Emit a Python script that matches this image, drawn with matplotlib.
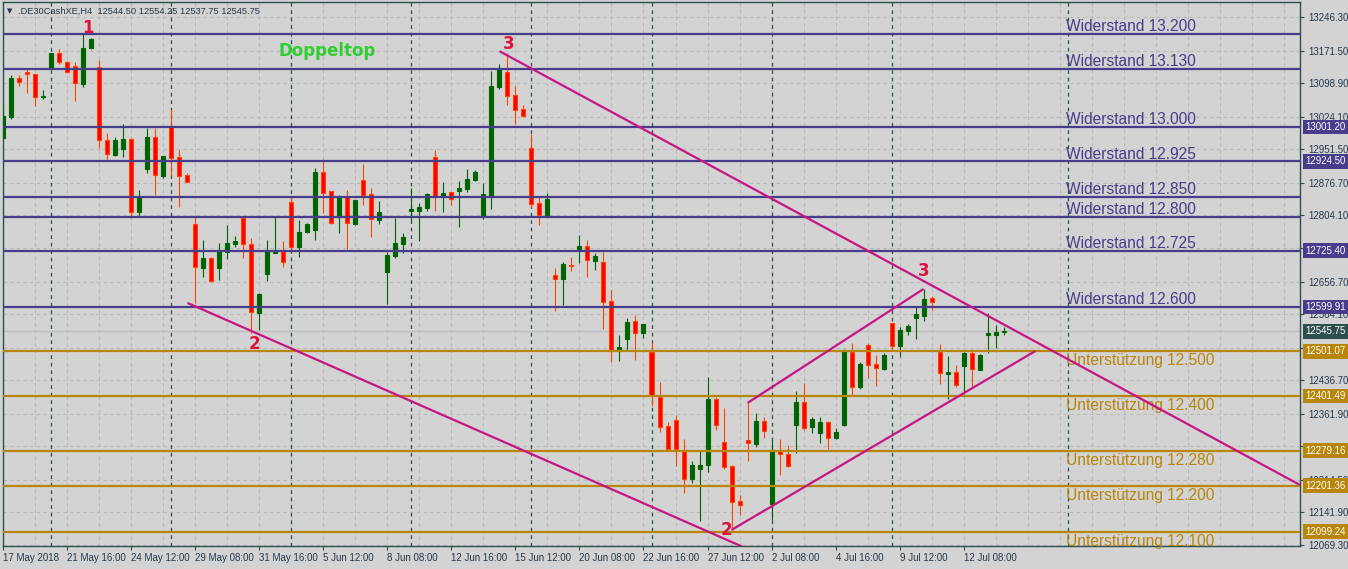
import matplotlib
matplotlib.use('Agg')
from matplotlib import pyplot as plt
import numpy as np

plt.rcParams['font.family'] = ['Liberation Sans', 'DejaVu Sans']

# DE30 H4 candles, 17 May 2018 08:00 .. 13 Jul 2018 16:00 (3 bars per day)
opens = [12976.6, 13023.4, 13110.3, 13123.7, 13119.3, 13068.0, 13132.6, 13166.1, 13146.0, 13137.1,
         13097.0, 13177.2, 13134.9, 12972.1, 12938.7, 12952.1, 12974.4, 12811.7, 12907.5, 12978.8,
         12891.9, 13001.1, 12934.3, 12894.1, 12784.9, 12686.8, 12709.1, 12686.8, 12722.5, 12740.3,
         12798.3, 12740.3, 12586.5, 12673.5, 12720.3, 12724.7, 12833.9, 12733.6, 12767.1, 12771.5,
         12900.8, 12858.5, 12800.5, 12845.1, 12784.9, 12883.0, 12851.8, 12793.8, 12677.9, 12713.6,
         12740.3, 12813.9, 12813.9, 12820.6, 12934.3, 12845.1, 12856.2, 12858.5, 12862.9, 12883.0,
         12802.7, 12849.5, 13090.3, 13123.7, 13072.4, 13041.2, 12954.3, 12831.7, 12805.0, 12671.2,
         12662.3, 12693.5, 12729.2, 12735.9, 12702.4, 12700.2, 12613.3, 12501.8, 12528.6, 12568.7,
         12541.9, 12499.6, 12399.3, 12334.6, 12348.0, 12281.2, 12216.5, 12238.8, 12247.7, 12394.8,
         12299.0, 12245.5, 12167.5, 12303.4, 12294.5, 12345.8, 12160.8, 12278.9, 12272.2, 12336.9,
         12388.1, 12332.4, 12319.0, 12343.6, 12307.9, 12336.9, 12499.6, 12421.6, 12515.2, 12472.8,
         12461.7, 12564.2, 12513.0, 12546.4, 12575.4, 12579.8, 12620.0, 12499.6, 12450.6, 12455.0,
         12468.4, 12497.4, 12459.5, 12537.5, 12537.5, 12544.50]
highs = [13052.4, 13117.0, 13117.0, 13130.4, 13119.3, 13083.6, 13166.1, 13175.0, 13148.2, 13146.0,
         13210.6, 13199.5, 13150.5, 12987.7, 12978.8, 13007.8, 12976.6, 12860.7, 12998.9, 12998.9,
         12936.5, 13041.2, 12949.9, 12898.6, 12805.0, 12749.2, 12711.3, 12742.6, 12782.7, 12758.2,
         12802.7, 12753.7, 12631.1, 12749.2, 12802.7, 12747.0, 12847.3, 12793.8, 12787.1, 12909.7,
         12929.8, 12858.5, 12849.5, 12860.7, 12838.4, 12918.6, 12865.2, 12836.2, 12722.5, 12798.3,
         12764.8, 12865.2, 12831.7, 12854.0, 12949.9, 12878.5, 12856.2, 12880.8, 12907.5, 12905.3,
         12876.3, 13125.9, 13141.5, 13166.1, 13092.5, 13050.2, 12985.5, 12847.3, 12854.0, 12686.8,
         12700.2, 12711.3, 12760.4, 12749.2, 12720.3, 12722.5, 12637.8, 12537.5, 12575.4, 12582.1,
         12562.0, 12521.9, 12432.7, 12343.6, 12359.2, 12305.7, 12256.6, 12278.9, 12443.9, 12399.3,
         12374.8, 12247.7, 12180.8, 12388.1, 12363.6, 12354.7, 12303.4, 12305.7, 12292.3, 12412.7,
         12430.5, 12354.7, 12354.7, 12345.8, 12330.2, 12506.3, 12519.7, 12477.3, 12519.7, 12492.9,
         12497.4, 12564.2, 12555.3, 12562.0, 12599.9, 12640.0, 12624.4, 12517.4, 12490.7, 12470.6,
         12499.6, 12506.3, 12495.1, 12586.5, 12559.8, 12554.25]
lows = [12974.4, 13019.0, 13092.5, 13076.9, 13047.9, 13063.5, 13132.6, 13141.5, 13121.5, 13059.1,
        13090.3, 13175.0, 12954.3, 12927.6, 12936.5, 12934.3, 12798.3, 12800.5, 12898.6, 12849.5,
        12887.4, 12891.9, 12822.8, 12878.5, 12608.8, 12666.8, 12655.6, 12660.1, 12706.9, 12733.6,
        12709.1, 12541.9, 12548.6, 12657.9, 12720.3, 12689.1, 12722.5, 12711.3, 12764.8, 12749.2,
        12809.4, 12784.9, 12764.8, 12729.2, 12782.7, 12827.3, 12755.9, 12784.9, 12606.6, 12709.1,
        12720.3, 12791.6, 12747.0, 12813.9, 12813.9, 12811.7, 12827.3, 12778.2, 12856.2, 12880.8,
        12796.1, 12818.3, 13085.8, 13050.2, 13007.8, 13023.4, 12820.6, 12782.7, 12802.7, 12591.0,
        12604.4, 12680.1, 12698.0, 12666.8, 12682.4, 12550.9, 12477.3, 12479.5, 12504.1, 12481.8,
        12530.8, 12379.2, 12321.3, 12278.9, 12245.5, 12185.3, 12207.6, 12122.9, 12232.1, 12325.7,
        12238.8, 12107.3, 12136.3, 12256.6, 12287.8, 12307.9, 12125.1, 12225.4, 12243.3, 12274.5,
        12325.7, 12319.0, 12296.8, 12283.4, 12305.7, 12334.6, 12403.7, 12417.1, 12441.6, 12423.8,
        12459.5, 12504.1, 12488.5, 12537.5, 12528.6, 12568.7, 12593.2, 12428.3, 12394.8, 12421.6,
        12406.0, 12421.6, 12459.5, 12497.4, 12508.5, 12537.75]
closes = [13025.6, 13110.3, 13101.4, 13119.3, 13068.0, 13070.2, 13166.1, 13146.0, 13123.7, 13099.2,
          13177.2, 13197.3, 12972.1, 12940.9, 12972.1, 12974.4, 12811.7, 12845.1, 12978.8, 12894.1,
          12936.5, 12932.0, 12891.9, 12878.5, 12689.1, 12709.1, 12657.9, 12724.7, 12742.6, 12747.0,
          12740.3, 12588.8, 12628.9, 12724.7, 12722.5, 12700.2, 12733.6, 12767.1, 12784.9, 12900.8,
          12854.0, 12787.1, 12845.1, 12787.1, 12838.4, 12849.5, 12796.1, 12811.7, 12715.8, 12742.6,
          12755.9, 12818.3, 12822.8, 12851.8, 12845.1, 12854.0, 12840.6, 12865.2, 12885.2, 12900.8,
          12851.8, 13092.5, 13132.6, 13070.2, 13039.0, 13025.6, 12829.5, 12805.0, 12840.6, 12662.3,
          12695.7, 12691.3, 12735.9, 12704.7, 12713.6, 12611.0, 12501.8, 12510.7, 12566.5, 12541.9,
          12562.0, 12401.5, 12332.4, 12283.4, 12283.4, 12216.5, 12247.7, 12247.7, 12394.8, 12336.9,
          12243.3, 12165.2, 12158.6, 12296.8, 12345.8, 12323.5, 12281.2, 12272.2, 12245.5, 12388.1,
          12330.2, 12350.3, 12343.6, 12307.9, 12321.3, 12501.8, 12421.6, 12472.8, 12470.6, 12463.9,
          12492.9, 12513.0, 12548.6, 12557.5, 12584.3, 12617.7, 12611.0, 12452.8, 12455.0, 12426.0,
          12497.4, 12461.7, 12492.9, 12541.9, 12544.2, 12545.75]

time_labels = ["17 May 2018", "21 May 16:00", "24 May 12:00", "29 May 08:00", "31 May 16:00",
               "5 Jun 12:00", "8 Jun 08:00", "12 Jun 16:00", "15 Jun 12:00", "20 Jun 08:00",
               "22 Jun 16:00", "27 Jun 12:00", "2 Jul 08:00", "4 Jul 16:00", "9 Jul 12:00",
               "12 Jul 08:00"]
label_bars = list(range(0, 121, 8))
week_starts = [6, 21, 36, 51, 66, 81, 96, 111, 133]

price_ticks = [13246.30, 13171.50, 13098.90, 13024.10, 12951.50, 12876.70, 12804.10, 12730.40,
               12656.70, 12584.10, 12509.30, 12436.70, 12361.90, 12289.30, 12214.50, 12141.90,
               12069.30]
# these three labels sit under the coloured price tags in the original
hidden_ticks = [12730.40, 12509.30, 12289.30]

resistance = [13208.4, 13130.4, 13001.20, 12924.50, 12845.5, 12801.0, 12725.40, 12599.91]
resistance_text = ["Widerstand 13.200", "Widerstand 13.130", "Widerstand 13.000", "Widerstand 12.925",
                   "Widerstand 12.850", "Widerstand 12.800", "Widerstand 12.725", "Widerstand 12.600"]
resistance_tag = [False, False, True, True, False, False, True, True]
support = [12501.07, 12401.49, 12279.16, 12201.36, 12099.24]
support_text = ["Unterstützung 12.500", "Unterstützung 12.400", "Unterstützung 12.280",
                "Unterstützung 12.200", "Unterstützung 12.100"]
bid = 12545.75

trend_bars = [(62.0, 162.06), (23.0, 92.7), (91.0, 129.0), (93.0, 115.0)]
trend_prices = [(13170.0, 12203.2), (12609.0, 12063.0), (12103.0, 12502.0), (12386.0, 12640.0)]

wave_text = ["1", "2", "3", "2", "3"]
wave_bars = [10.6, 31.4, 63.2, 90.4, 115.0]
wave_prices = [13221.8, 12517.4, 13187.0, 12102.8, 12680.0]

BG = '#D3D3D3'
FG = '#24384a'
BLUE = '#483D8B'
GOLD = '#B8860B'
GREEN = '#006400'

fig = plt.figure(figsize=(13.48, 5.69), dpi=100, facecolor=BG)
ax = fig.add_axes([3 / 1348, 23 / 569, 1297 / 1348, 544 / 569])
ax.set_facecolor(BG)

O, H, L, C = (np.array(a) for a in (opens, highs, lows, closes))
x = np.arange(len(O))
up = C >= O

ax.vlines(x[up], L[up], H[up], color=GREEN, lw=0.8, zorder=3)
ax.vlines(x[~up], L[~up], H[~up], color='#FF4500', lw=0.8, zorder=3)
ax.bar(x[up], (C - O)[up], bottom=O[up], width=0.5, color=GREEN, edgecolor=GREEN, lw=0.8, zorder=4)
ax.bar(x[~up], (O - C)[~up], bottom=C[~up], width=0.5, color='#FF0000', edgecolor='#FF4500', lw=0.8, zorder=4)

# grid
for p in price_ticks:
    ax.axhline(p, color='#b9b9b9', lw=0.8, ls=(0, (3, 3)), zorder=1)
for b in range(0, 163, 4):
    ax.axvline(b, color='#b9b9b9', lw=0.8, ls=(0, (3, 3)), zorder=1)
for b in week_starts:
    ax.axvline(b, color='#2F4F4F', lw=0.9, ls=(0, (3, 3)), zorder=1.5)
ax.axhline(bid, color='#BEBEBE', lw=1.0, zorder=1.5)

# support / resistance
for lvl, txt, tag in zip(resistance, resistance_text, resistance_tag):
    ax.axhline(lvl, color=BLUE, lw=1.6, zorder=5)
    ax.annotate(txt, (132.8, lvl), xytext=(0, 2), textcoords='offset points',
                color=BLUE, fontsize=11.2, va='baseline', ha='left', zorder=6)
    if tag:
        ax.text(1.0039, lvl, f"{lvl:.2f}", transform=ax.get_yaxis_transform(), color='white',
                fontsize=7, va='center', ha='left', clip_on=False, zorder=10,
                bbox=dict(boxstyle='square,pad=0.25', fc=BLUE, ec='none'))
for lvl, txt in zip(support, support_text):
    ax.axhline(lvl, color=GOLD, lw=1.6, zorder=5)
    ax.annotate(txt, (132.8, lvl), xytext=(0, -1.5), textcoords='offset points',
                color=GOLD, fontsize=11.2, va='top', ha='left', zorder=6)
    ax.text(1.0039, lvl, f"{lvl:.2f}", transform=ax.get_yaxis_transform(), color='white',
            fontsize=7, va='center', ha='left', clip_on=False, zorder=10,
            bbox=dict(boxstyle='square,pad=0.25', fc=GOLD, ec='none'))
ax.text(1.0039, bid, f"{bid:.2f}", transform=ax.get_yaxis_transform(), color='white',
        fontsize=7, va='center', ha='left', clip_on=False, zorder=10,
        bbox=dict(boxstyle='square,pad=0.25', fc='#2F4F4F', ec='none'))

# trend lines
for bx, py in zip(trend_bars, trend_prices):
    ax.plot(bx, py, color='#C71585', lw=1.6, zorder=7, solid_capstyle='butt')

for t, b, p in zip(wave_text, wave_bars, wave_prices):
    ax.text(b, p, t, color='#DC143C', fontsize=12, fontweight='bold', family='DejaVu Sans',
            ha='center', va='center', zorder=8)
ax.text(40.4, 13170.5, "Doppeltop", color='#32CD32', fontsize=12, fontweight='bold',
        family='DejaVu Sans', ha='center', va='center', zorder=8)

ax.set_xlim(-0.06, 162.06)
ax.set_ylim(12067.2, 13279.7)

ax.set_xticks(label_bars)
ax.set_xticklabels(time_labels, ha='left')
ax.set_yticks(price_ticks)
ax.set_yticklabels(["" if p in hidden_ticks else f"{p:.2f}" for p in price_ticks])
ax.yaxis.tick_right()
ax.tick_params(axis='x', direction='out', length=3, pad=2, labelsize=7, colors='#2F4F4F', labelcolor=FG)
ax.tick_params(axis='y', direction='out', length=3, pad=3, labelsize=7, colors='#2F4F4F', labelcolor=FG)
for s in ax.spines.values():
    s.set_color('#2F4F4F')
    s.set_linewidth(1)

fig.text(7 / 1348, 1 - 11 / 569, "\u25bc", fontsize=5, color=FG, va='center', ha='left', family='DejaVu Sans')
fig.text(18 / 1348, 1 - 11 / 569, ".DE30CashXE,H4  12544.50 12554.25 12537.75 12545.75",
         fontsize=6.7, color=FG, va='center', ha='left')

fig.savefig('out.png', dpi=100, facecolor=BG)
